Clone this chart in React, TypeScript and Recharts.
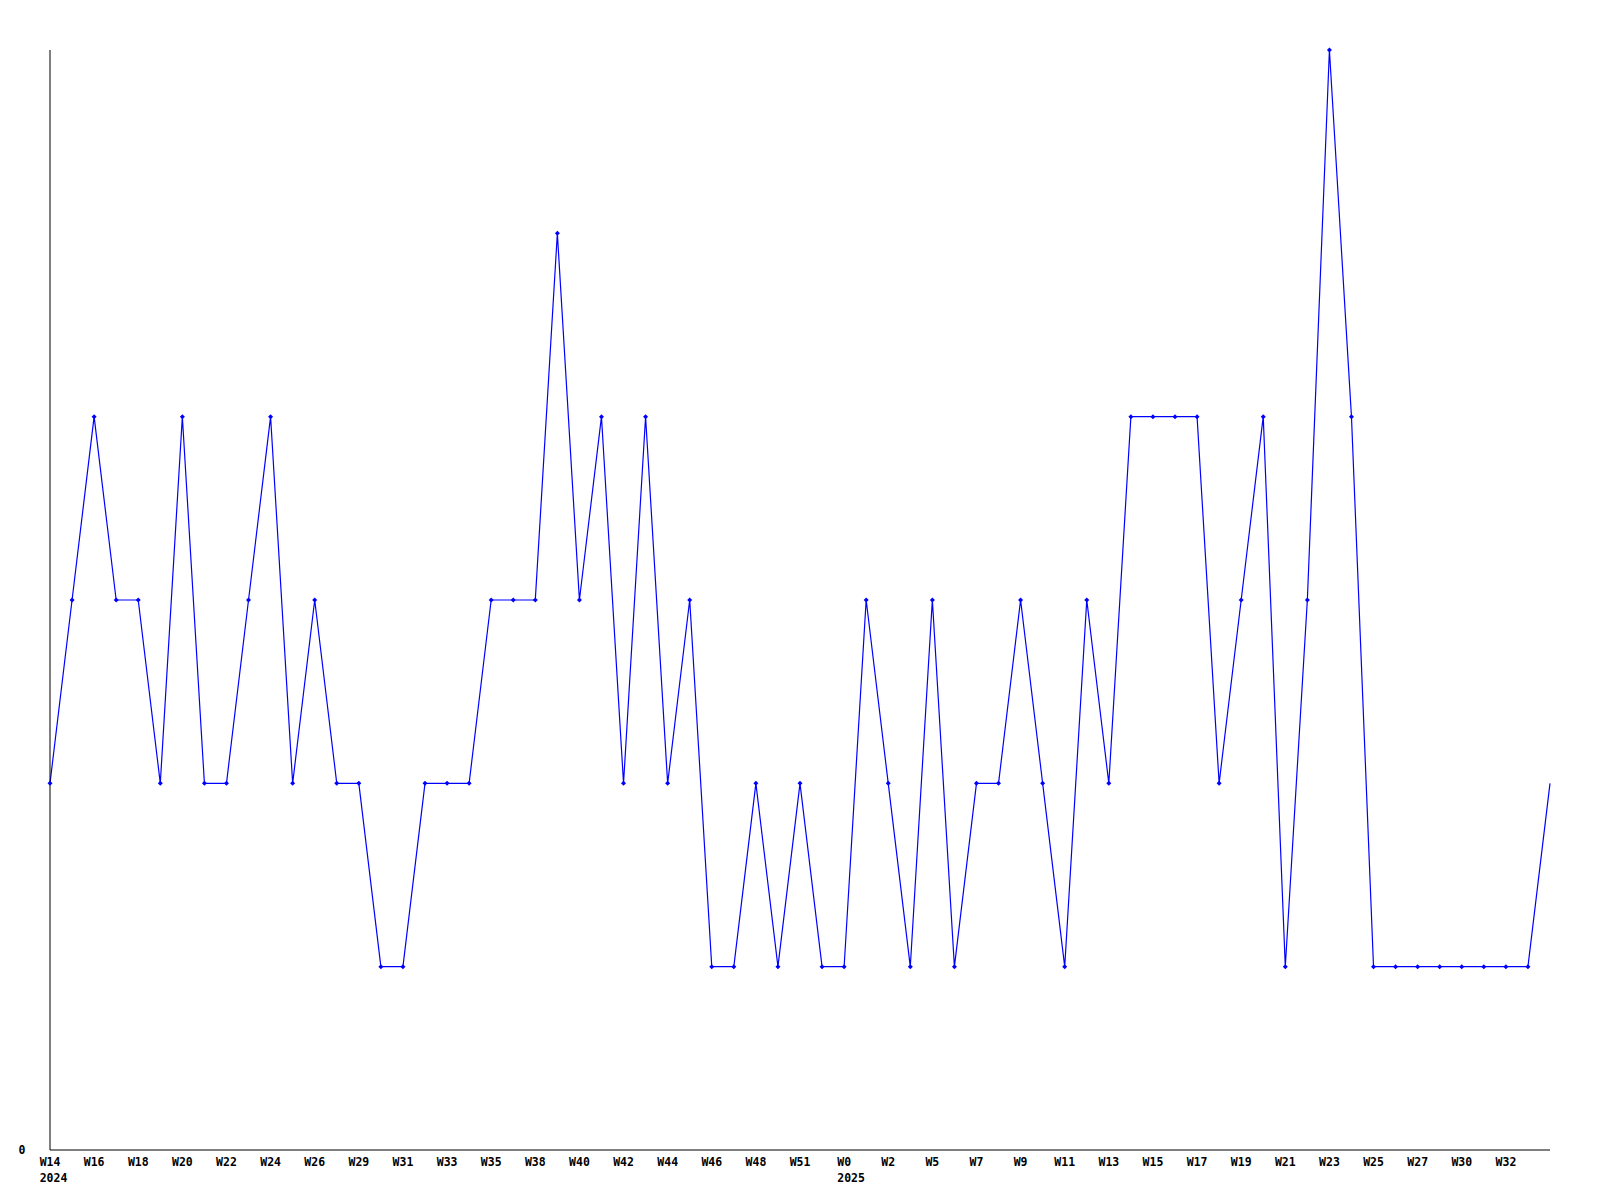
import { LineChart, Line, XAxis, YAxis } from 'recharts';

// one value per week, W14 2024 .. W34 2025
const counts = [
  2, 3, 4, 3, 3, 2, 4, 2, 2, 3, 4, 2, 3, 2, 2, 1, 1, 2, 2, 2, 3, 3, 3, 5, 3, 4, 2, 4, 2, 3,
  1, 1, 2, 1, 2, 1, 1, 3, 2, 1, 3, 1, 2, 2, 3, 2, 1, 3, 2, 4, 4, 4, 4, 2, 3, 4, 1, 3, 6, 4,
  1, 1, 1, 1, 1, 1, 1, 1, 2,
];

// labels sit on every second point
const weekLabels = [
  'W14', 'W16', 'W18', 'W20', 'W22', 'W24', 'W26', 'W29', 'W31', 'W33', 'W35', 'W38',
  'W40', 'W42', 'W44', 'W46', 'W48', 'W51', 'W0', 'W2', 'W5', 'W7', 'W9', 'W11',
  'W13', 'W15', 'W17', 'W19', 'W21', 'W23', 'W25', 'W27', 'W30', 'W32',
];

const yearLabels: Record<number, string> = { 0: '2024', 36: '2025' };

const yTicks = [0];

const data = counts.map((v, i) => ({ i, v }));

const FONT = '"DejaVu Sans Mono", monospace';

function WeekTick({ x, y, payload }: any) {
  const idx = Number(payload?.value);
  if (!(idx % 2 === 0)) return null;
  const label = weekLabels[idx / 2];
  if (!label) return null;
  const year = yearLabels[idx];
  const left = x - (label.length * 6.9) / 2;
  return (
    <g>
      <text x={left} y={y + 8} fontFamily={FONT} fontWeight="bold" fontSize={11.5} fill="#000">
        {label}
      </text>
      {year && (
        <text x={left} y={y + 24} fontFamily={FONT} fontWeight="bold" fontSize={11.5} fill="#000">
          {year}
        </text>
      )}
    </g>
  );
}

function ZeroTick({ y, payload }: any) {
  return (
    <text x={22} y={y + 4} textAnchor="middle" fontFamily={FONT} fontWeight="bold" fontSize={11.5} fill="#000">
      {payload.value}
    </text>
  );
}

function Marker(props: any) {
  const { cx, cy, index } = props;
  if (index === counts.length - 1) return <g key={index} />;
  return (
    <path
      key={index}
      d={`M${cx - 2.5},${cy} L${cx},${cy - 2.5} L${cx + 2.5},${cy} L${cx},${cy + 2.5} Z`}
      fill="#0000ff"
      stroke="none"
    />
  );
}

export default function App() {
  return (
    <div style={{ position: 'absolute', left: 0, top: 0, background: '#fff' }}>
      <LineChart width={1600} height={1200} data={data} margin={{ top: 50, right: 50, bottom: 0, left: 0 }}>
        <XAxis
          dataKey="i"
          type="category"
          interval={0}
          height={50}
          tickLine={false}
          axisLine={{ stroke: '#000', strokeWidth: 1 }}
          tick={<WeekTick />}
        />
        <YAxis
          domain={[0, 6]}
          ticks={yTicks}
          width={50}
          tickLine={false}
          axisLine={{ stroke: '#000', strokeWidth: 1 }}
          tick={<ZeroTick />}
        />
        <Line
          type="linear"
          dataKey="v"
          stroke="#0000ff"
          strokeWidth={1.2}
          dot={Marker}
          activeDot={false}
          isAnimationActive={false}
        />
      </LineChart>
    </div>
  );
}
